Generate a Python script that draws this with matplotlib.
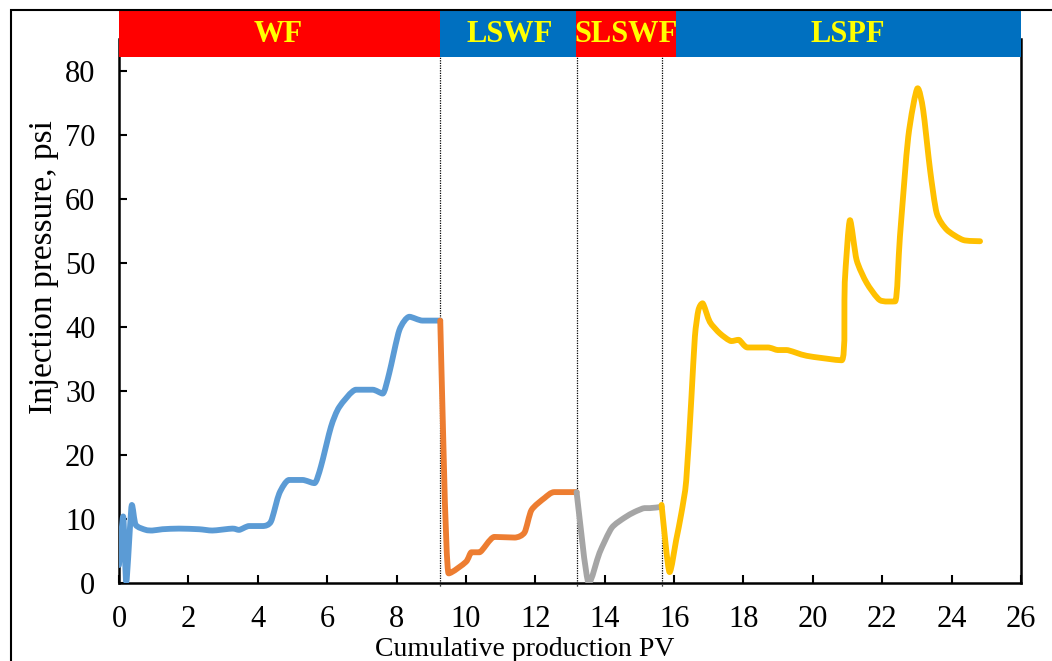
import matplotlib
matplotlib.use('Agg')
import matplotlib.pyplot as plt
from matplotlib.patches import Rectangle, PathPatch
from matplotlib.path import Path

plt.rcParams['font.family'] = ['Liberation Serif', 'DejaVu Serif']

# WF stage
wf_x = [0.0, 0.12, 0.21, 0.37, 0.48, 0.77, 0.96, 1.25, 1.73, 2.31, 2.69, 3.27, 3.46,
        3.75, 4.14, 4.38, 4.62, 4.9, 5.29, 5.63, 5.82, 6.11, 6.35, 6.83, 7.31, 7.6,
        7.79, 8.08, 8.37, 8.75, 9.26]
wf_y = [2.8, 10.4, 0.2, 12.2, 9.1, 8.3, 8.2, 8.4, 8.5, 8.4, 8.2, 8.5, 8.3,
        8.9, 8.9, 9.6, 14.0, 16.1, 16.1, 15.6, 18.2, 24.4, 27.5, 30.2, 30.2, 29.6,
        32.8, 39.5, 41.6, 41.0, 41.0]

# LSWF stage
lswf_x = [9.26, 9.5, 10.0, 10.16, 10.39, 10.82, 11.4, 11.69, 11.89, 12.27, 12.55, 13.19]
lswf_y = [41.0, 1.5, 3.3, 4.8, 4.8, 7.2, 7.1, 7.9, 11.4, 13.3, 14.2, 14.2]

# SLSWF stage
slswf_x = [13.19, 13.54, 13.85, 14.2, 14.57, 14.86, 15.15, 15.3, 15.64]
slswf_y = [14.2, 0.0, 4.7, 8.6, 10.2, 11.1, 11.7, 11.7, 11.9]

# LSPF stage
lspf_x = [15.64, 15.87, 16.06, 16.21, 16.35, 16.5, 16.6, 16.7, 16.82, 17.03, 17.32,
          17.65, 17.86, 18.12, 18.7, 18.99, 19.24, 19.82, 20.83, 20.92, 21.07, 21.26,
          21.55, 21.93, 22.37, 22.51, 22.75, 23.02, 23.18, 23.38, 23.57, 23.86, 24.33,
          24.82]
lspf_y = [12.2, 1.7, 6.7, 10.9, 16.0, 29.0, 38.5, 42.6, 43.7, 40.8, 39.0,
          37.8, 38.0, 36.8, 36.8, 36.4, 36.4, 35.5, 34.8, 47.0, 56.7, 50.5,
          46.9, 44.2, 44.0, 54.1, 69.7, 77.3, 73.9, 64.5, 57.8, 55.2, 53.6,
          53.4]

stage_names = ['WF', 'LSWF', 'SLSWF', 'LSPF']
stage_edges = [0, 9.26, 13.16, 16.05, 26]
stage_colors = ['#FF0000', '#0070C0', '#FF0000', '#0070C0']
stage_label_x = [4.6, 11.25, 14.6, 21.0]
switch_x = [9.26, 13.19, 15.64]


def smooth_line(ax, xs, ys, color, lw, t=0.35):
    # bezier path through the points; flat tangents at local peaks/troughs
    n = len(xs)
    tan = []
    for i in range(n):
        a, b = max(i - 1, 0), min(i + 1, n - 1)
        dx, dy = (xs[b] - xs[a]) * t / 3, (ys[b] - ys[a]) * t / 3
        if 0 < i < n - 1 and (ys[i] - ys[a]) * (ys[b] - ys[i]) <= 0:
            dy = 0
        tan.append((dx, dy))
    verts = [(xs[0], ys[0])]
    codes = [Path.MOVETO]
    for i in range(n - 1):
        c1 = (xs[i] + tan[i][0], ys[i] + tan[i][1])
        c2 = (xs[i + 1] - tan[i + 1][0], ys[i + 1] - tan[i + 1][1])
        verts += [c1, c2, (xs[i + 1], ys[i + 1])]
        codes += [Path.CURVE4] * 3
    ax.add_patch(PathPatch(Path(verts, codes), facecolor='none', edgecolor=color,
                           lw=lw, joinstyle='round', capstyle='round', zorder=3))


fig = plt.figure(figsize=(10.52, 6.61), dpi=100)
ax = fig.add_axes([119 / 1052, 1 - 583 / 661, 902 / 1052, 544 / 661])

lw = 4.2
smooth_line(ax, wf_x, wf_y, '#5B9BD5', lw)
smooth_line(ax, lswf_x, lswf_y, '#ED7D31', lw)
smooth_line(ax, slswf_x, slswf_y, '#A5A5A5', lw)
smooth_line(ax, lspf_x, lspf_y, '#FFC000', lw)

ax.set_xlim(0, 26)
ax.set_ylim(0, 85)
ax.set_xticks(range(0, 27, 2))
ax.set_yticks(range(0, 81, 10))

# stage bands above the plot
band_lo, band_hi = 82.2, 89.5
for i, name in enumerate(stage_names):
    ax.add_patch(Rectangle((stage_edges[i], band_lo), stage_edges[i + 1] - stage_edges[i],
                           band_hi - band_lo, facecolor=stage_colors[i], edgecolor='none',
                           clip_on=False, zorder=5))
    ax.text(stage_label_x[i], (band_lo + band_hi) / 2 - 0.2, name, color='#FFFF00',
            fontsize=22, fontweight='bold', ha='center', va='center', zorder=6, clip_on=False)

for sx in switch_x:
    ax.plot([sx, sx], [-0.4, band_lo], color='black', lw=0.9, ls=(0, (1, 1)),
            clip_on=False, zorder=1)

for side in ['left', 'bottom', 'right']:
    ax.spines[side].set_linewidth(1.8)
ax.spines['top'].set_visible(False)
ax.tick_params(direction='in', length=6, width=1.5, labelsize=22)
ax.tick_params(axis='x', pad=16)
ax.tick_params(axis='y', pad=17)

ax.set_xlabel('Cumulative production PV', fontsize=20)
ax.set_ylabel('Injection pressure, psi', fontsize=24)
ax.xaxis.set_label_coords(0.45, -0.1)
ax.yaxis.set_label_coords(-0.066, 0.58)

# outer frame
fig.patches.append(Rectangle((11 / 1052, -0.5), 2, 1.5 - 9.5 / 661,
                             transform=fig.transFigure, fill=False,
                             edgecolor='black', lw=1.5, zorder=0))

fig.savefig('out.png', dpi=100)
